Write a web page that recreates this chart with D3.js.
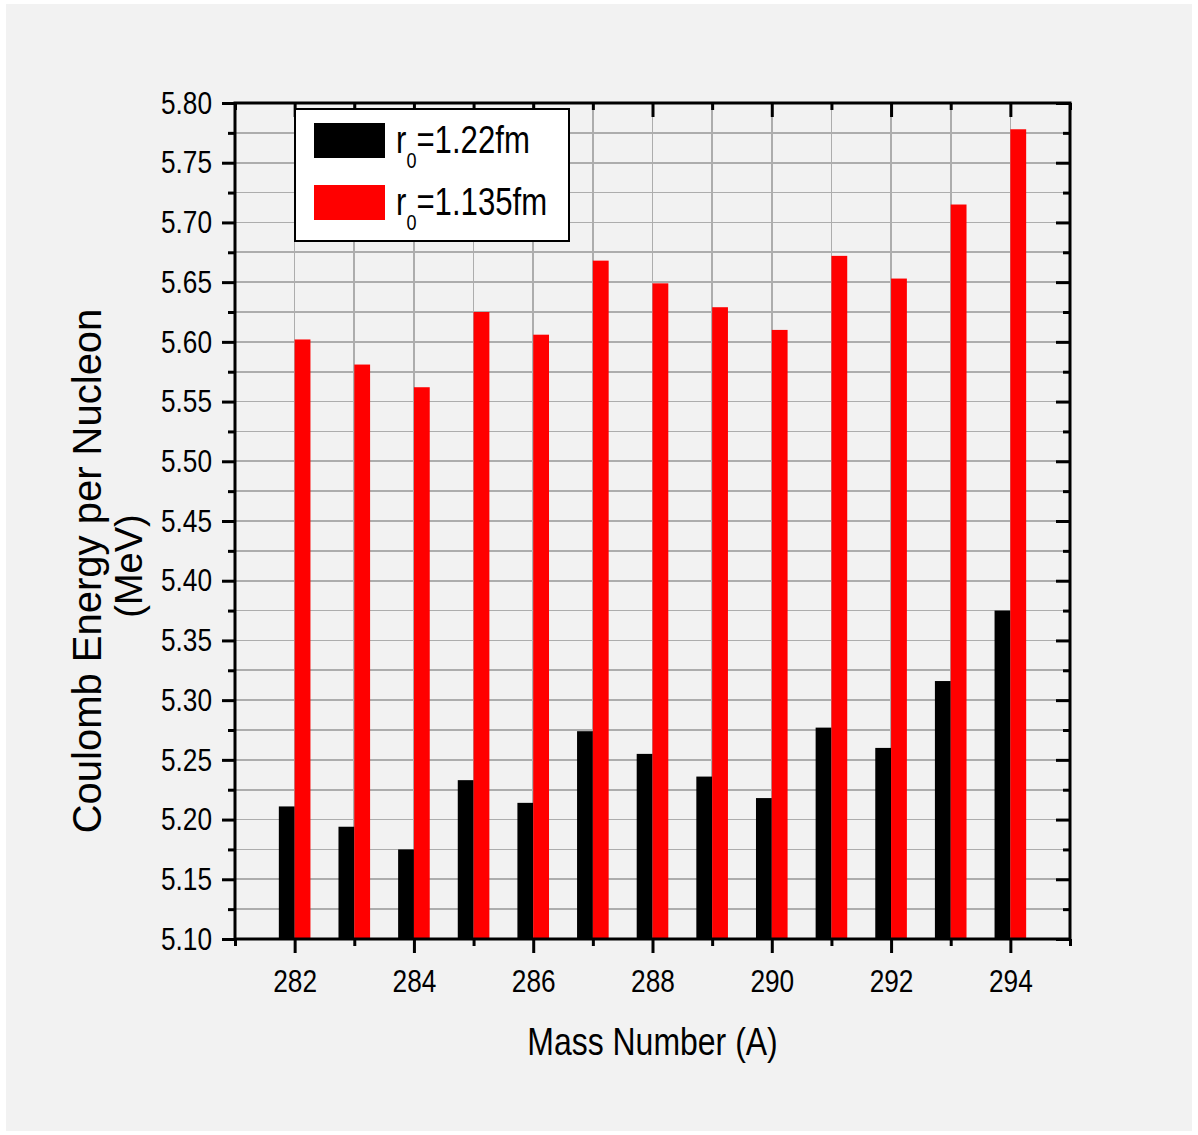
<!DOCTYPE html>
<meta charset="utf-8">
<style>
body { margin: 0; background: #fff; }
svg { display: block; }
text { font-family: "Liberation Sans", Arial, sans-serif; }
.grid line { stroke: #adadad; stroke-width: 1.6; shape-rendering: crispEdges; }
.axis path { display: none; }
.axis line { stroke: #000; stroke-width: 3; }
.axis text { fill: #000; }
</style>
<svg id="chart" width="1198" height="1135"></svg>
<script src="https://d3js.org/d3.v7.min.js"></script>
<script>

// mass numbers and Coulomb energy per nucleon (MeV) for the two radius constants
var massNumbers = [282, 283, 284, 285, 286, 287, 288, 289, 290, 291, 292, 293, 294];
var energyR122  = [5.211, 5.194, 5.175, 5.233, 5.214, 5.274, 5.255, 5.236, 5.218, 5.277, 5.260, 5.316, 5.375];
var energyR1135 = [5.602, 5.581, 5.562, 5.625, 5.606, 5.668, 5.649, 5.629, 5.610, 5.672, 5.653, 5.715, 5.778];

var seriesNames  = ["=1.22fm", "=1.135fm"];
var seriesColors = ["#000000", "#ff0000"];

var xMajorTicks = [282, 284, 286, 288, 290, 292, 294];
var xMinorTicks = [281, 283, 285, 287, 289, 291, 293, 295];
var yMajorTicks = [5.10, 5.15, 5.20, 5.25, 5.30, 5.35, 5.40, 5.45, 5.50, 5.55, 5.60, 5.65, 5.70, 5.75, 5.80];
var yMinorTicks = [5.125, 5.175, 5.225, 5.275, 5.325, 5.375, 5.425, 5.475, 5.525, 5.575, 5.625, 5.675, 5.725, 5.775];

// no narrow font installed, so squeeze the regular one
var narrow = 0.82;

var svg = d3.select("#chart");

var plot = {left: 235, right: 1070, top: 103, bottom: 939};

// light grey page
svg.append("rect")
    .attr("x", 6).attr("y", 4)
    .attr("width", 1186).attr("height", 1127)
    .attr("fill", "#f2f2f2");

var x = d3.scaleLinear().domain([281, 295]).range([plot.left, plot.right]);
var y = d3.scaleLinear().domain([5.10, 5.80]).range([plot.bottom, plot.top]);

var barW = 0.265;

// grid
var grid = svg.append("g").attr("class", "grid");
grid.selectAll(".gx")
    .data(massNumbers)
  .enter().append("line")
    .attr("x1", function(d) { return x(d); })
    .attr("x2", function(d) { return x(d); })
    .attr("y1", plot.top).attr("y2", plot.bottom);
grid.selectAll(".gy")
    .data(yMajorTicks.concat(yMinorTicks).filter(function(d) { return d > 5.101 && d < 5.799; }))
  .enter().append("line")
    .attr("x1", plot.left).attr("x2", plot.right)
    .attr("y1", function(d) { return y(d); })
    .attr("y2", function(d) { return y(d); });

// bars
var series = [energyR122, energyR1135];
series.forEach(function(vals, s) {
  svg.append("g").selectAll("rect")
      .data(vals)
    .enter().append("rect")
      .attr("x", function(d, i) { return x(massNumbers[i] + (s === 0 ? -barW : 0)); })
      .attr("width", x(281 + barW) - x(281))
      .attr("y", function(d) { return y(d); })
      .attr("height", function(d) { return y(5.10) - y(d); })
      .attr("fill", seriesColors[s]);
});

// axes: labelled major ticks, short minor ticks, mirrored inward on top/right
function styleAxis(g) {
  g.attr("class", "axis").attr("font-family", null).attr("font-size", 32);
  g.selectAll("text").each(function() {
    var t = d3.select(this);
    var tx = +(t.attr("x") || 0);
    t.attr("x", tx / narrow).attr("transform", "scale(" + narrow + ",1)");
  });
}

svg.append("g")
    .attr("transform", "translate(0," + plot.bottom + ")")
    .call(d3.axisBottom(x).tickValues(xMajorTicks).tickSize(14).tickSizeOuter(0).tickPadding(16).tickFormat(d3.format("d")))
    .call(styleAxis);
svg.append("g")
    .attr("transform", "translate(0," + plot.bottom + ")")
    .call(d3.axisBottom(x).tickValues(xMinorTicks).tickSize(7).tickSizeOuter(0).tickFormat(""))
    .call(styleAxis);
svg.append("g")
    .attr("transform", "translate(0," + plot.top + ")")
    .call(d3.axisBottom(x).tickValues(xMajorTicks).tickSize(14).tickSizeOuter(0).tickFormat(""))
    .call(styleAxis);
svg.append("g")
    .attr("transform", "translate(0," + plot.top + ")")
    .call(d3.axisBottom(x).tickValues(xMinorTicks).tickSize(7).tickSizeOuter(0).tickFormat(""))
    .call(styleAxis);

svg.append("g")
    .attr("transform", "translate(" + plot.left + ",0)")
    .call(d3.axisLeft(y).tickValues(yMajorTicks).tickSize(13).tickSizeOuter(0).tickPadding(10).tickFormat(d3.format(".2f")))
    .call(styleAxis);
svg.append("g")
    .attr("transform", "translate(" + plot.left + ",0)")
    .call(d3.axisLeft(y).tickValues(yMinorTicks).tickSize(7).tickSizeOuter(0).tickFormat(""))
    .call(styleAxis);
svg.append("g")
    .attr("transform", "translate(" + plot.right + ",0)")
    .call(d3.axisLeft(y).tickValues(yMajorTicks).tickSize(14).tickSizeOuter(0).tickFormat(""))
    .call(styleAxis);
svg.append("g")
    .attr("transform", "translate(" + plot.right + ",0)")
    .call(d3.axisLeft(y).tickValues(yMinorTicks).tickSize(7).tickSizeOuter(0).tickFormat(""))
    .call(styleAxis);

// frame
svg.append("rect")
    .attr("x", plot.left).attr("y", plot.top)
    .attr("width", plot.right - plot.left).attr("height", plot.bottom - plot.top)
    .attr("fill", "none").attr("stroke", "#000").attr("stroke-width", 3);

// axis titles
svg.append("text")
    .attr("transform", "translate(" + (plot.left + plot.right) / 2 + ",1055) scale(" + narrow + ",1)")
    .attr("text-anchor", "middle")
    .attr("font-size", 39)
    .text("Mass Number (A)");

svg.append("text")
    .attr("transform", "translate(101,571) rotate(-90)")
    .attr("text-anchor", "middle")
    .attr("font-size", 40)
    .text("Coulomb Energy per Nucleon");
svg.append("text")
    .attr("transform", "translate(142,566) rotate(-90)")
    .attr("text-anchor", "middle")
    .attr("font-size", 38)
    .text("(MeV)");

// legend
var legend = svg.append("g");
legend.append("rect")
    .attr("x", 295).attr("y", 109)
    .attr("width", 274).attr("height", 132)
    .attr("fill", "#fff").attr("stroke", "#000").attr("stroke-width", 2);

seriesNames.forEach(function(name, i) {
  var row = legend.append("g").attr("transform", "translate(0," + (i * 62) + ")");
  row.append("rect")
      .attr("x", 314).attr("y", 123)
      .attr("width", 71).attr("height", 35)
      .attr("fill", seriesColors[i]);
  var t = row.append("text")
      .attr("transform", "translate(396,153) scale(" + narrow + ",1)")
      .attr("font-size", 38);
  t.append("tspan").text("r");
  t.append("tspan").attr("font-size", 22).attr("dy", 15).text("0");
  t.append("tspan").attr("dy", -15).text(name);
});

</script>
